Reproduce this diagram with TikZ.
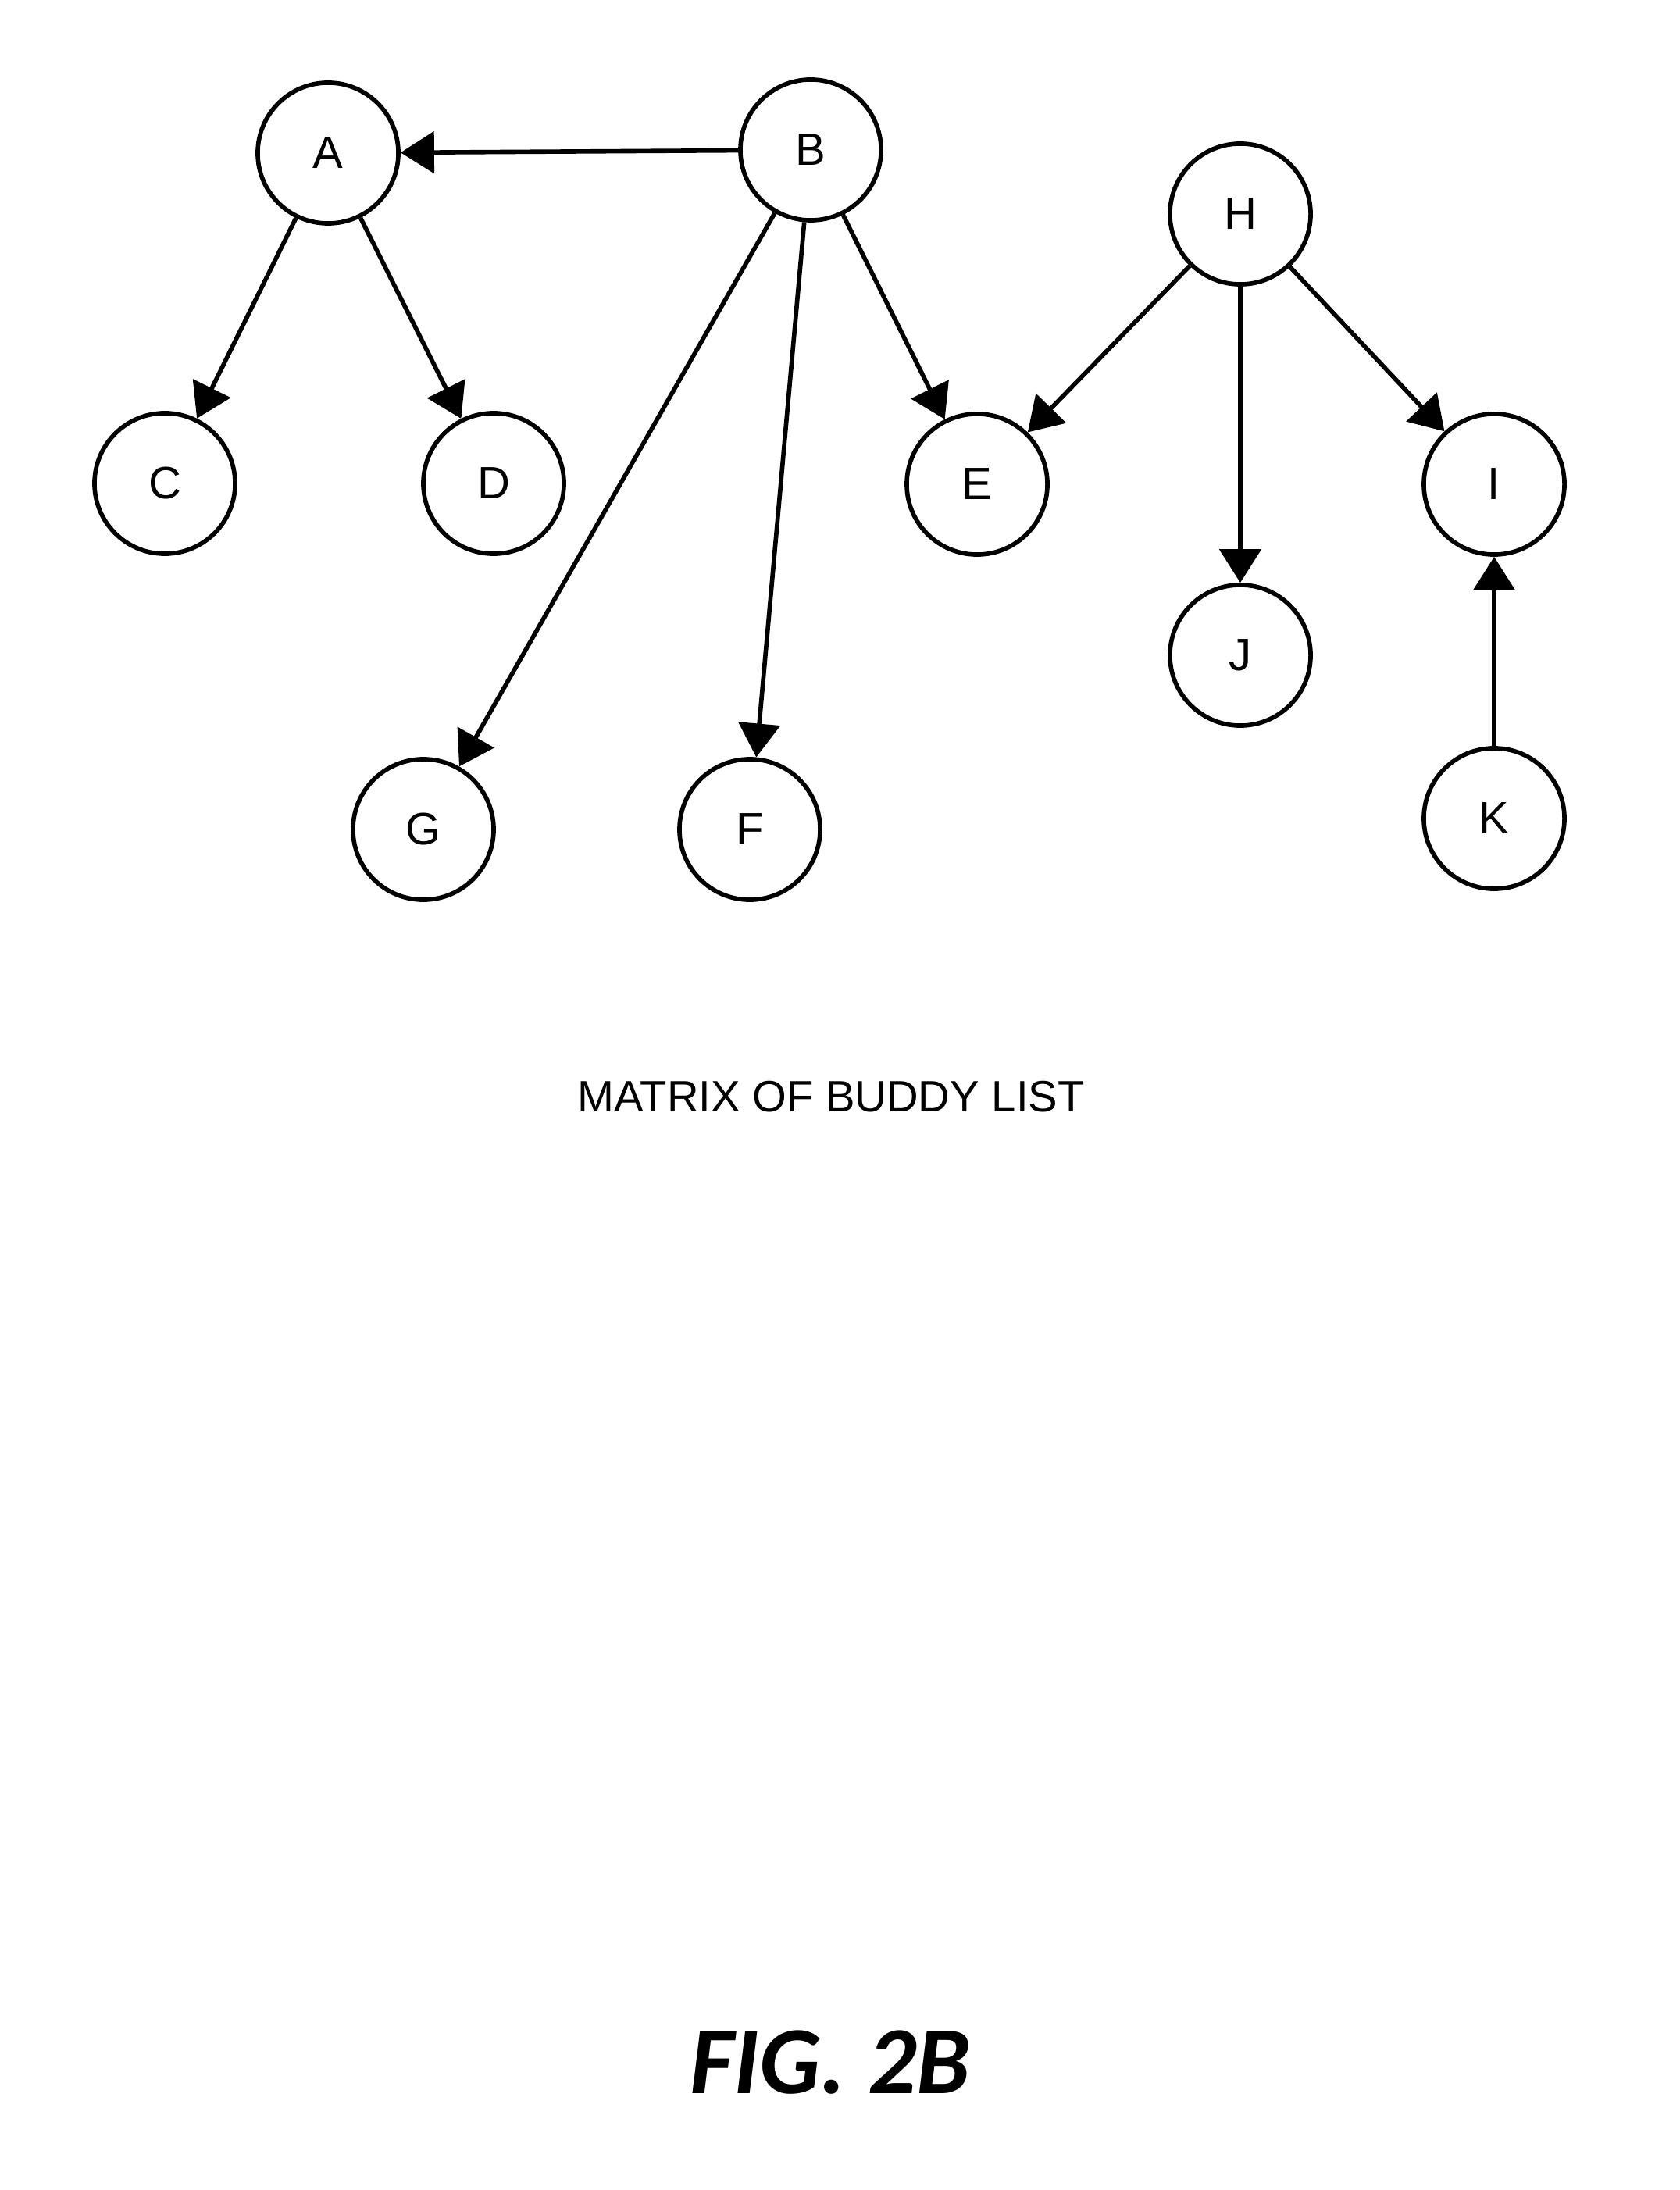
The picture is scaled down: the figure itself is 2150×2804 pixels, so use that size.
\documentclass[tikz,border=0pt]{standalone}
\usepackage{fontspec}
\setmainfont{Liberation Sans}
\newfontfamily\figfont{Carlito}
\usepackage{tikz}
\usetikzlibrary{arrows.meta}

\begin{document}
\begin{tikzpicture}[x=0.01cm,y=-0.01cm,line width=1.6pt,
    buddy/.style={circle,draw,minimum size=1.8cm,inner sep=0pt,
      font=\fontsize{16.5}{20}\selectfont},
    link/.style={-{Triangle[length=4.3mm,width=5.3mm]}}]
  \useasboundingbox (0,0) rectangle (2150,2804);
            % buddies
            \node[buddy] (A) at (420,196) {A};
            \node[buddy] (B) at (1038,192) {B};
            \node[buddy] (H) at (1588,274) {H};
            \node[buddy] (C) at (211,619) {C};
            \node[buddy] (D) at (632,619) {D};
            \node[buddy] (E) at (1251,620) {E};
            \node[buddy] (I) at (1913,620) {I};
            \node[buddy] (J) at (1588,839) {J};
            \node[buddy] (G) at (542,1062) {G};
            \node[buddy] (F) at (960,1062) {F};
            \node[buddy] (K) at (1913,1048) {K};
            % links
            \foreach \from/\to in {B/A,A/C,A/D,B/G,B/F,B/E,H/E,H/J,H/I,K/I}
            \draw[link] (\from) -- (\to);
            \node (matrix) at (1064,1404) {\fontsize{16}{20}\selectfont MATRIX OF BUDDY LIST};
            \node (fig) at (1063,2641) {\figfont\bfseries\itshape\fontsize{35}{40}\selectfont FIG. 2B};
      \end{tikzpicture}
\end{document}
